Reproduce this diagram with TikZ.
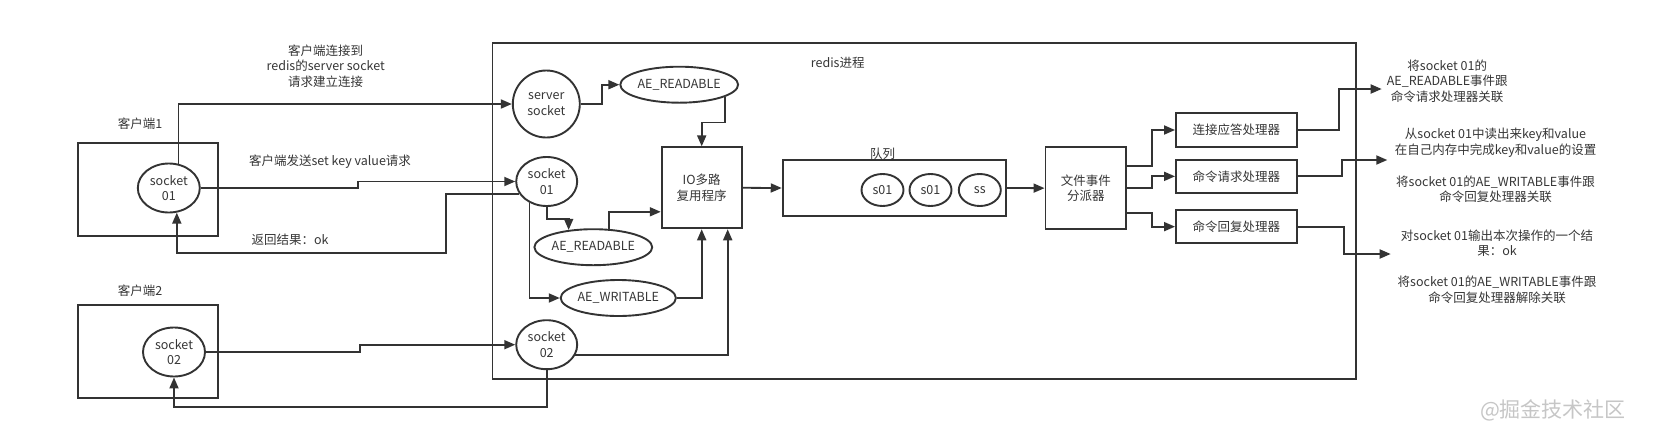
\documentclass[tikz,border=0pt]{standalone}
\usepackage{fontspec}
\setmainfont{Noto Sans CJK SC}
\usetikzlibrary{shapes.geometric,arrows.meta,calc}
\definecolor{ln}{HTML}{333333}
\definecolor{tx}{HTML}{363636}
\definecolor{wm}{HTML}{C6C6C6}
\begin{document}
\begin{tikzpicture}[x=1pt,y=-1pt,
  every node/.style={font=\fontsize{12.5}{15.5}\selectfont, text=tx},
  arr/.style={draw=ln, line width=1.8pt, -{Triangle[length=11pt,width=9pt]}},
  oval/.style={ellipse, draw=ln, line width=1.9pt, inner sep=0pt, align=center},
  box/.style={rectangle, draw=ln, line width=1.9pt, inner sep=0pt, align=center},
  lbl/.style={inner sep=0pt, align=center}]
\useasboundingbox[fill=white] (0,0) rectangle (1663,440);

% clients
\node[box, minimum width=140pt, minimum height=93pt] (cl1) at (148.3,189.8) {};
\node[lbl] (cl1t) at (140,123.3) {客户端1};
\node[oval, minimum width=62pt, minimum height=49pt] (c1s) at (168.8,188) {socket\\01};
\node[box, minimum width=140pt, minimum height=93.3pt] (cl2) at (148.3,351.7) {};
\node[lbl] (cl2t) at (140,291) {客户端2};
\node[oval, minimum width=62pt, minimum height=49pt] (c2s) at (174,352) {socket\\02};

% labels between
\node[lbl] (lconn) at (325.7,66.1) {客户端连接到\\redis的server socket\\请求建立连接};
\node[lbl] (lsend) at (330,161.7) {客户端发送set key value请求};
\node[lbl] (lret) at (290,239.3) {返回结果：ok};

% redis process
\node[box, minimum width=863.5pt, minimum height=336.3pt] (redis) at (924.25,210.85) {};
\node[lbl] (redist) at (837.7,63) {redis进程};

\node[oval, minimum width=67pt, minimum height=67pt] (ss) at (546.3,104) {server\\socket};
\node[oval, minimum width=108pt, minimum height=36pt] (ar1) at (679.2,84.7) {AE\_READABLE};
\node[oval, minimum width=61pt, minimum height=49pt] (rs1) at (546.7,181.5) {socket\\01};
\node[oval, minimum width=108pt, minimum height=36pt] (ar2) at (593.3,247.2) {AE\_READABLE};
\node[oval, minimum width=108pt, minimum height=36pt] (aw) at (618.3,298) {AE\_WRITABLE};
\node[oval, minimum width=61pt, minimum height=49pt] (rs2) at (546.7,344.7) {socket\\02};

\node[box, minimum width=80pt, minimum height=81pt] (io) at (701.7,187.8) {IO多路\\复用程序};
\node[box, minimum width=223pt, minimum height=56pt] (queue) at (894.2,188) {};
\node[lbl] (queuet) at (882.7,153.3) {队列};
\node[oval, minimum width=42pt, minimum height=32pt] (q1) at (882.5,190) {s01};
\node[oval, minimum width=42pt, minimum height=32pt] (q2) at (930.5,190) {s01};
\node[oval, minimum width=42pt, minimum height=32pt] (q3) at (979.8,190) {ss};

\node[box, minimum width=80.5pt, minimum height=81.7pt] (disp) at (1085.75,188.15) {文件事件\\分派器};
\node[box, minimum width=120.7pt, minimum height=33.4pt] (h1) at (1236.35,130) {连接应答处理器};
\node[box, minimum width=120.7pt, minimum height=32.7pt] (h2) at (1236.35,176.35) {命令请求处理器};
\node[box, minimum width=120.7pt, minimum height=33.3pt] (h3) at (1236.35,226.65) {命令回复处理器};

% right texts
\node[lbl] (t1) at (1447.2,81.1) {将socket 01的\\AE\_READABLE事件跟\\命令请求处理器关联};
\node[lbl] (t2) at (1495.5,142.9) {从socket 01中读出来key和value\\在自己内存中完成key和value的设置};
\node[lbl] (t3) at (1495.5,189.5) {将socket 01的AE\_WRITABLE事件跟\\命令回复处理器关联};
\node[lbl] (t4) at (1497,243.4) {对socket 01输出本次操作的一个结\\果：ok};
\node[lbl] (t5) at (1497,290) {将socket 01的AE\_WRITABLE事件跟\\命令回复处理器解除关联};

\node[lbl, text=wm, font=\fontsize{21}{21}\selectfont] (wmk) at (1553,410) {@掘金技术社区};

\coordinate (o1) at (1381.7,89);
\coordinate (o2) at (1387.3,160);
\coordinate (o3) at (1390.7,254);

% client connectors
\draw[arr] (c1s.68) |- (ss.west);
\draw[arr] (c1s.east) -- (358.3,188) |- (rs1.west);
\draw[arr] (rs1.204) -| (446,253.3) -| (c1s.288);
\draw[arr] (c2s.east) -- (360,352) |- (rs2.west);
\draw[arr] (rs2.south) -- ++(0,37) -| (c2s.south);

% inside redis
\draw[arr] (ss.east) -- (602.3,104) |- (ar1.west);
\draw[arr] (ar1.345) -- ++(0,25.6) -| (io.north);
\draw[arr] (rs1.south) -- ++(0,12.3) -| (ar2.145);
\draw[arr] (ar2.49) |- ([yshift=-24pt]io.west);
\draw[arr] (rs1.231) |- (aw.west);
\draw[arr] (aw.east) -| (io.south);
\draw[arr] (rs2.340) -| ([xshift=26pt]io.south);
\draw[arr] (io.east) -- (queue.west);
\draw[arr] (queue.east) -- (disp.west);
\draw[arr] ([yshift=22pt]disp.east) -- ++(25,0) |- (h1.west);
\draw[arr] (disp.east) -- ++(25,0) |- (h2.west);
\draw[arr] ([yshift=-24.5pt]disp.east) -- ++(25,0) |- (h3.west);
\draw[arr] (h1.east) -- ++(41,0) |- (o1);
\draw[arr] (h2.east) -- ++(44.3,0) |- (o2);
\draw[arr] (h3.east) -- ++(46,0) |- (o3);
\end{tikzpicture}
\end{document}
